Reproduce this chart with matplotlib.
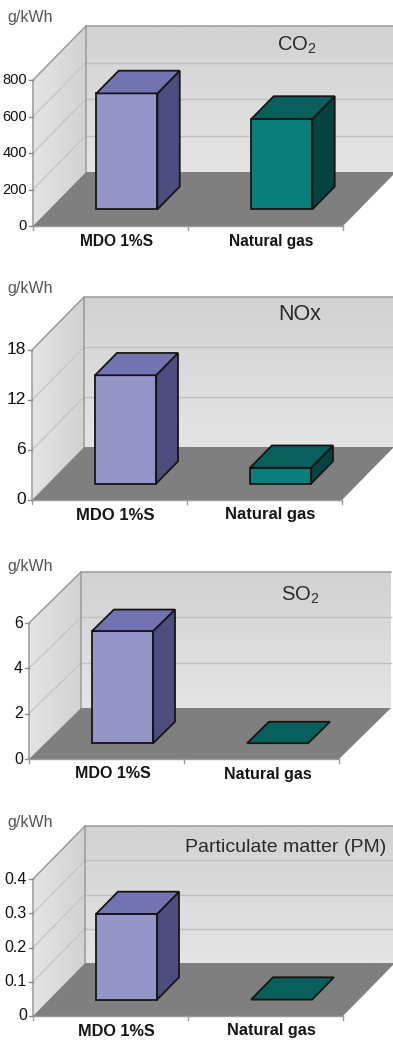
import numpy as np
import matplotlib
matplotlib.use('Agg')
import matplotlib.pyplot as plt
from matplotlib.patches import Polygon
from matplotlib.colors import LinearSegmentedColormap

plt.rcParams['font.family'] = ['Liberation Sans', 'DejaVu Sans']
plt.rcParams['mathtext.default'] = 'regular'

# ---------------- data (g/kWh) ----------------
categories = ['MDO 1%S', 'Natural gas']
titles = ['CO$_2$', 'NOx', 'SO$_2$', 'Particulate matter (PM)']
co2 = [635, 495]
nox = [13.0, 1.9]
so2 = [4.95, 0.0]
pm = [0.25, 0.0]
series = [co2, nox, so2, pm]
yticks = [[0, 200, 400, 600, 800],
          [0, 6, 12, 18],
          [0, 2, 4, 6],
          [0, 0.1, 0.2, 0.3, 0.4]]
unit = 'g/kWh'

# ---------------- layout (pixels) ----------------
W, H = 393, 1041
origins = [(33, 226), (32, 500), (29, 759), (33, 1016)]   # front-left floor corner
axis_px = [146, 150, 136, 137]                            # height of value axis
depth_px = [(53, 54), (52, 53), (52, 51), (52, 53)]       # oblique depth offset
unit_y = [17, 288, 566, 823]
title_xy = [(297, 45), (300, 315), (300, 595), (286, 847)]
tick_fs = [10.5, 12.5, 11.5, 11.5]
cat_fs = [11.2, 12.0, 11.5, 11.7]
title_fs = [14.5, 15.5, 14.5, 14]
cat_px = 155          # width of one category slot
bar_half = 0.197      # half bar width in category units
bar_d = (0.31, 0.73)  # bar depth span (fraction of floor depth)

bar_cols = [dict(front='#9595c8', side='#4d4d80', top='#7373b1'),
            dict(front='#0a7e7a', side='#044341', top='#085f5b')]

side_cmap = LinearSegmentedColormap.from_list('side', ['#e4e4e4', '#d2d2d2'])
back_cmap = LinearSegmentedColormap.from_list('back', ['#e4e4e4', '#d2d2d2'])


def fmt(t):
    return '0' if t == 0 else ('%g' % t)


def draw_panel(ax, k):
    vals, ticks, title = series[k], yticks[k], titles[k]
    x0, y0 = origins[k]
    vmax = ticks[-1]
    s = axis_px[k] / vmax
    n = len(vals)
    dx = depth_px[k][0] / cat_px
    dy = depth_px[k][1] / s

    def P(u, v, d):
        return (u + d * dx, v + d * dy)

    def px(xp, yp):
        return ((xp - x0) / cat_px, (y0 - yp) / s)

    # walls with soft gradients
    side = Polygon([P(0, 0, 0), P(0, vmax, 0), P(0, vmax, 1), P(0, 0, 1)],
                   closed=True, facecolor='none', edgecolor='none')
    back = Polygon([P(0, 0, 1), P(n, 0, 1), P(n, vmax, 1), P(0, vmax, 1)],
                   closed=True, facecolor='none', edgecolor='none')
    ax.add_patch(side)
    ax.add_patch(back)
    g = np.linspace(0, 1, 64)
    im = ax.imshow(g[None, :], cmap=side_cmap, aspect='auto',
                   extent=(0, dx, 0, vmax + dy), origin='lower', zorder=1)
    im.set_clip_path(side)
    im2 = ax.imshow(g[:, None], cmap=back_cmap, aspect='auto',
                    extent=(dx, n + dx, dy, vmax + dy), origin='lower', zorder=1)
    im2.set_clip_path(back)

    # floor
    ax.add_patch(Polygon([P(0, 0, 0), P(n, 0, 0), P(n, 0, 1), P(0, 0, 1)],
                         closed=True, facecolor='#7f7f7f', edgecolor='none', zorder=2))

    # gridlines on back and side wall
    for t in ticks[1:-1]:
        a, b = P(0, t, 1), P(n, t, 1)
        ax.plot([a[0], b[0]], [a[1], b[1]], color='#c0c0c0', lw=1.0, zorder=1.5)
        a, b = P(0, t, 0), P(0, t, 1)
        ax.plot([a[0], b[0]], [a[1], b[1]], color='#c6c6c6', lw=1.0, zorder=1.5)

    # wall edges
    edge = dict(color='#9a9a9a', lw=1.1, zorder=1.8)
    pts = [P(0, 0, 0), P(0, vmax, 0), P(0, vmax, 1), P(n, vmax, 1)]
    ax.plot([p[0] for p in pts], [p[1] for p in pts], **edge)
    a, b = P(0, 0, 1), P(0, vmax, 1)
    ax.plot([a[0], b[0]], [a[1], b[1]], **edge)

    # value ticks and labels
    for t in ticks:
        ax.plot([-4 / cat_px, 0], [t, t], color='#8a8a8a', lw=1.0, zorder=2)
        ax.text(-6 / cat_px, t, fmt(t), ha='right', va='center',
                fontsize=tick_fs[k], color='#111111')
    for j in range(n + 1):
        ax.plot([j, j], [0, -4 / s], color='#9a9a9a', lw=1.0, zorder=2)
    ax.plot([0, n], [0, 0], color='#9a9a9a', lw=1.0, zorder=2)

    # bars
    for i, v in enumerate(vals):
        c = bar_cols[i]
        u0, u1 = i + 0.5 - bar_half, i + 0.5 + bar_half
        d0, d1 = bar_d
        kw = dict(closed=True, edgecolor='#151515', lw=1.3, joinstyle='miter', zorder=3)
        if v > 0:
            ax.add_patch(Polygon([P(u0, 0, d0), P(u1, 0, d0), P(u1, v, d0), P(u0, v, d0)],
                                 facecolor=c['front'], **kw))
            ax.add_patch(Polygon([P(u1, 0, d0), P(u1, 0, d1), P(u1, v, d1), P(u1, v, d0)],
                                 facecolor=c['side'], **kw))
        ax.add_patch(Polygon([P(u0, v, d0), P(u1, v, d0), P(u1, v, d1), P(u0, v, d1)],
                             facecolor=c['top'], **kw))

    # category labels
    for i, name in enumerate(categories):
        ax.text(i + 0.5 + 6 / cat_px, -15 / s, name, ha='center', va='center',
                fontsize=cat_fs[k], fontweight='bold', color='#151515')

    ax.text(*px(7, unit_y[k]), unit, ha='left', va='center', fontsize=11.5,
            color='#555555')
    ax.text(*px(*title_xy[k]), title, ha='center', va='center',
            fontsize=title_fs[k], color='#2a2a2a')

    ax.set_xlim(-x0 / cat_px, (W - x0) / cat_px)
    ax.set_ylim((y0 - H) / s, y0 / s)
    ax.set_aspect('auto')
    ax.axis('off')


fig = plt.figure(figsize=(W / 100, H / 100), dpi=100)
for k in range(4):
    ax = fig.add_axes([0, 0, 1, 1])
    ax.patch.set_alpha(0)
    draw_panel(ax, k)

fig.savefig('out.png', dpi=100, facecolor='white')
